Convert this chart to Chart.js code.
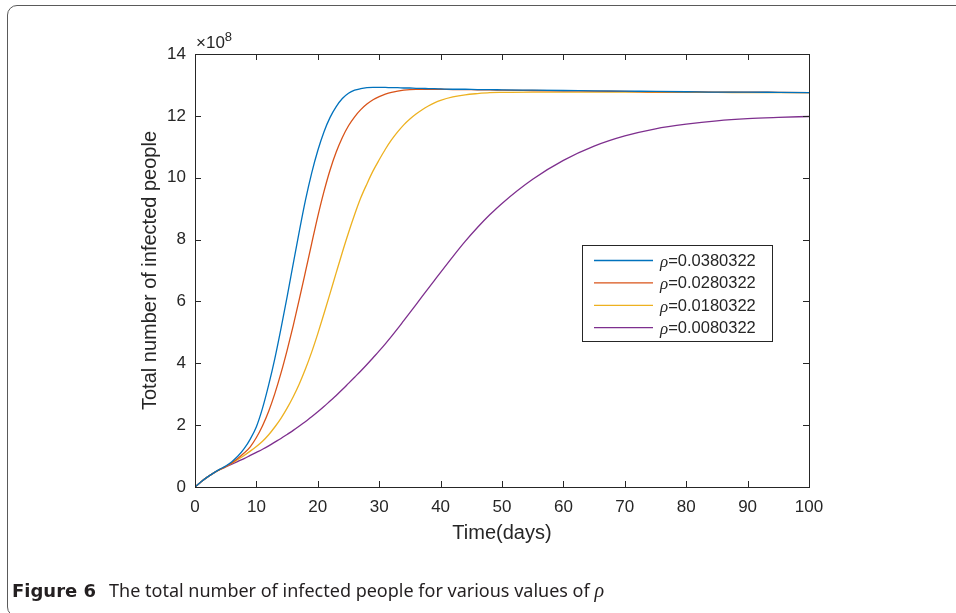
<!DOCTYPE html>
<html>
<head>
<meta charset="utf-8">
<script src="https://cdn.jsdelivr.net/npm/chart.js@4.4.0/dist/chart.umd.min.js"></script>
<style>
    html, body { margin: 0; padding: 0; background: #fff; }
    body { width: 956px; height: 613px; overflow: hidden; position: relative; }
    .frame { position: absolute; left: 7px; top: 5px; width: 1000px; height: 612px; border: 1.5px solid #5a5a5a; border-radius: 10px; box-sizing: border-box; }
    #chart { position: absolute; left: 0; top: 0; }
    .caption { position: absolute; left: 12px; top: 578px; font-family: 'Noto Sans', sans-serif; font-size: 18px; color: #231f20; white-space: nowrap; }
    .caption b { font-family: 'DejaVu Sans', sans-serif; font-size: 18px; font-weight: 700; margin-right: 13px; }
    .caption i { font-family: 'Liberation Serif', serif; font-size: 20px; }
</style>
</head>
<body>
<div class="frame"></div>
<canvas id="chart" width="956" height="613"></canvas>
<div class="caption"><b>Figure 6</b>The total number of infected people for various values of <i>ρ</i></div>
<script>
// Time axis (days) shared by all curves
const days = [0, 1, 2, 3, 4, 5, 6, 7, 8, 9, 10, 11, 12, 13, 14, 15, 16, 17, 18, 19, 20,
    21, 22, 23, 24, 25, 26, 27, 28, 29, 30, 31, 32, 33, 34, 35, 36, 37, 38, 39, 40,
    42, 44, 46, 48, 50, 55, 60, 65, 70, 75, 80, 85, 90, 95, 100];

// Total infected, in units of 1e8
const rho038 = [0, 0.17, 0.32, 0.45, 0.57, 0.68, 0.82, 1.0, 1.24, 1.55, 1.95,
    2.55, 3.3, 4.15, 5.12, 6.15, 7.22, 8.28, 9.28, 10.15, 10.88,
    11.48, 11.95, 12.3, 12.56, 12.73, 12.83, 12.88, 12.91, 12.92, 12.92,
    12.92, 12.91, 12.91, 12.9, 12.9, 12.89, 12.89, 12.88, 12.88, 12.87,
    12.86, 12.86, 12.85, 12.85, 12.84, 12.83, 12.82, 12.81, 12.8, 12.79, 12.78, 12.77, 12.77, 12.76, 12.75];
const rho028 = [0, 0.17, 0.32, 0.45, 0.56, 0.66, 0.78, 0.93, 1.1, 1.3, 1.6,
    1.98, 2.45, 3.02, 3.68, 4.42, 5.22, 6.08, 6.97, 7.87, 8.75,
    9.55, 10.25, 10.83, 11.3, 11.68, 11.97, 12.2, 12.38, 12.52, 12.62,
    12.7, 12.76, 12.8, 12.83, 12.85, 12.86, 12.86, 12.86, 12.86, 12.86,
    12.85, 12.85, 12.84, 12.84, 12.83, 12.82, 12.81, 12.8, 12.79, 12.78, 12.78, 12.77, 12.77, 12.76, 12.75];
const rho018 = [0, 0.17, 0.32, 0.45, 0.56, 0.66, 0.77, 0.89, 1.02, 1.16, 1.31,
    1.48, 1.69, 1.94, 2.22, 2.55, 2.92, 3.34, 3.82, 4.36, 4.96,
    5.6, 6.26, 6.93, 7.59, 8.22, 8.81, 9.35, 9.8, 10.22, 10.58,
    10.92, 11.22, 11.48, 11.71, 11.9, 12.06, 12.2, 12.32, 12.42, 12.5,
    12.61, 12.68, 12.72, 12.75, 12.76, 12.77, 12.77, 12.77, 12.77, 12.76, 12.76, 12.76, 12.75, 12.75, 12.75];
const rho008 = [0, 0.17, 0.32, 0.45, 0.56, 0.65, 0.74, 0.83, 0.92, 1.02, 1.12,
    1.22, 1.33, 1.45, 1.57, 1.7, 1.83, 1.97, 2.12, 2.27, 2.43,
    2.6, 2.78, 2.96, 3.15, 3.35, 3.55, 3.75, 3.96, 4.18, 4.4,
    4.63, 4.87, 5.12, 5.38, 5.64, 5.9, 6.16, 6.42, 6.68, 6.94,
    7.45, 7.94, 8.39, 8.8, 9.17, 9.95, 10.56, 11.02, 11.35, 11.58, 11.73, 11.84, 11.91, 11.95, 11.98];

const seriesLabels = ['0.0380322', '0.0280322', '0.0180322', '0.0080322'];
const seriesValues = [rho038, rho028, rho018, rho008];
const seriesColors = ['#0072BD', '#D95319', '#EDB120', '#7E2F8E'];

const xTicks = [0, 10, 20, 30, 40, 50, 60, 70, 80, 90, 100];
const yTicks = [0, 2, 4, 6, 8, 10, 12, 14];

const axisColor = '#262626';
const sans = "'Liberation Sans', Arial, sans-serif";

// Box, inward ticks, exponent and legend
const framePlugin = {
    id: 'frame',
    afterDatasetsDraw(chart) {
        const { ctx, chartArea: a, scales: { x, y } } = chart;
        ctx.save();
        ctx.strokeStyle = axisColor;
        ctx.lineWidth = 1;
        ctx.strokeRect(a.left + 0.5, a.top + 0.5, a.right - a.left, a.bottom - a.top);

        ctx.beginPath();
        xTicks.forEach(v => {
            const px = Math.round(x.getPixelForValue(v)) + 0.5;
            ctx.moveTo(px, a.bottom); ctx.lineTo(px, a.bottom - 6);
            ctx.moveTo(px, a.top); ctx.lineTo(px, a.top + 6);
        });
        yTicks.forEach(v => {
            const py = Math.round(y.getPixelForValue(v)) + 0.5;
            ctx.moveTo(a.left, py); ctx.lineTo(a.left + 6, py);
            ctx.moveTo(a.right, py); ctx.lineTo(a.right - 6, py);
        });
        ctx.stroke();

        // x10^8 above the y axis
        ctx.fillStyle = axisColor;
        ctx.textBaseline = 'alphabetic';
        ctx.textAlign = 'left';
        ctx.font = '17px ' + sans;
        ctx.fillText('\u00d710', a.left + 1, a.top - 6);
        const w = ctx.measureText('\u00d710').width;
        ctx.font = '13px ' + sans;
        ctx.fillText('8', a.left + 1 + w, a.top - 13);

        // legend
        const bx = 582.5, by = 245.5, bw = 190, bh = 96;
        ctx.fillStyle = '#fff';
        ctx.fillRect(bx, by, bw, bh);
        ctx.strokeStyle = axisColor;
        ctx.strokeRect(bx, by, bw, bh);
        chart.data.datasets.forEach((ds, i) => {
            const ry = 260.5 + i * 22.4;
            ctx.strokeStyle = ds.borderColor;
            ctx.lineWidth = 1.3;
            ctx.beginPath();
            ctx.moveTo(594, ry); ctx.lineTo(653, ry);
            ctx.stroke();
            ctx.fillStyle = axisColor;
            ctx.textBaseline = 'middle';
            ctx.font = 'italic 17px "Liberation Serif", serif';
            ctx.fillText('\u03c1', 660, ry + 2);
            const rw = ctx.measureText('\u03c1').width;
            ctx.font = '16.5px ' + sans;
            ctx.fillText('=' + ds.label, 660 + rw, ry + 1);
        });
        ctx.restore();
    }
};

const datasets = seriesValues.map((vals, i) => ({
    label: seriesLabels[i],
    data: days.map((d, j) => ({ x: d, y: vals[j] })),
    borderColor: seriesColors[i],
    borderWidth: 1.3,
    pointRadius: 0,
    fill: false,
    cubicInterpolationMode: 'monotone'
}));

new Chart(document.getElementById('chart'), {
    type: 'line',
    data: { datasets: datasets },
    options: {
        responsive: false,
        animation: false,
        devicePixelRatio: 1,
        layout: { padding: { left: 128, top: 54, right: 147, bottom: 68 } },
        plugins: { legend: { display: false }, tooltip: { enabled: false } },
        scales: {
            x: {
                type: 'linear',
                min: 0,
                max: 100,
                afterBuildTicks: s => { s.ticks = xTicks.map(v => ({ value: v })); },
                afterFit: s => { s.height = 58; },
                grid: { display: false, drawTicks: false },
                border: { display: false },
                ticks: { color: axisColor, font: { family: sans, size: 17 }, padding: 10, maxRotation: 0, autoSkip: false },
                title: { display: true, text: 'Time(days)', color: axisColor, font: { family: sans, size: 20 }, padding: { top: 0, bottom: 0 } }
            },
            y: {
                min: 0,
                max: 14,
                afterBuildTicks: s => { s.ticks = yTicks.map(v => ({ value: v })); },
                afterFit: s => { s.width = 67; },
                grid: { display: false, drawTicks: false },
                border: { display: false },
                ticks: { color: axisColor, font: { family: sans, size: 17 }, padding: 9, autoSkip: false },
                title: { display: true, text: 'Total number of infected people', color: axisColor, font: { family: sans, size: 20 }, padding: { top: 10, bottom: 0 } }
            }
        }
    },
    plugins: [framePlugin]
});
</script>
</body>
</html>
